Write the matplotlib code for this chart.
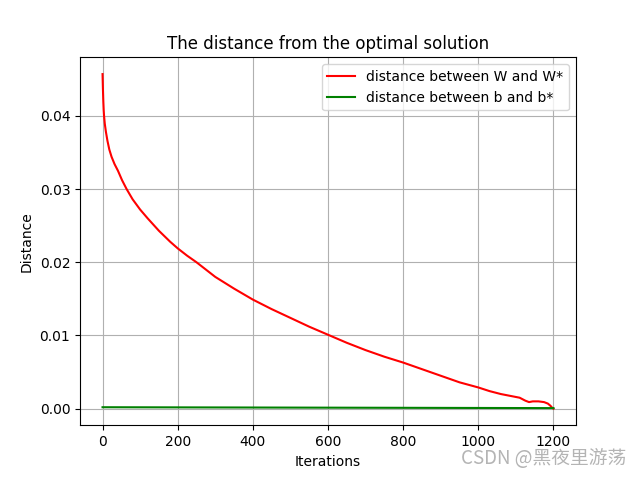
import matplotlib
matplotlib.use("Agg")
import matplotlib.pyplot as plt

iters_w = [0, 1, 2, 3, 4, 6, 9, 13, 18, 24, 32, 41, 52, 64, 80, 100, 120, 150, 180,
           200, 225, 250, 275, 300, 350, 400, 450, 500, 550, 600, 650, 700, 750, 800,
           850, 900, 950, 1000, 1030, 1060, 1090, 1110, 1125, 1135, 1145, 1160,
           1175, 1185, 1192, 1197, 1200]
dist_w = [0.0457, 0.0437, 0.0420, 0.0408, 0.0400, 0.0389, 0.0378, 0.0366, 0.0354,
          0.0344, 0.0334, 0.0325, 0.0312, 0.0300, 0.0286, 0.0272, 0.0260, 0.0243,
          0.0228, 0.0219, 0.0209, 0.0200, 0.0190, 0.0180, 0.0164, 0.0149, 0.0136,
          0.0124, 0.0112, 0.0101, 0.0090, 0.0080, 0.0071, 0.0063, 0.0054, 0.0045,
          0.0036, 0.0029, 0.0024, 0.0020, 0.0017, 0.0015, 0.0011, 0.0009, 0.0010,
          0.0010, 0.0009, 0.0007, 0.0004, 0.0001, 0.0000]

iters_b = [0, 300, 600, 900, 1200]
dist_b = [0.00020, 0.00017, 0.00014, 0.00011, 0.00008]

title = "The distance from the optimal solution"
xlabel = "Iterations"
ylabel = "Distance"
label_w = "distance between W and W*"
label_b = "distance between b and b*"
watermark = "CSDN @黑夜里游荡"

fig = plt.figure(figsize=(6.4, 4.78), dpi=100)
ax = fig.add_subplot(111)
ax.plot(iters_w, dist_w, color="red", label=label_w)
ax.plot(iters_b, dist_b, color="green", label=label_b)
ax.set_title(title)
ax.set_xlabel(xlabel)
ax.set_ylabel(ylabel)
ax.grid(True)
ax.legend(loc="upper right")

fig.text(0.978, 0.018, watermark, ha="right", va="bottom", fontsize=13.5,
         color="#b4b4b4", family=["Noto Sans CJK SC", "DejaVu Sans"])

fig.savefig("out.png", dpi=100)
